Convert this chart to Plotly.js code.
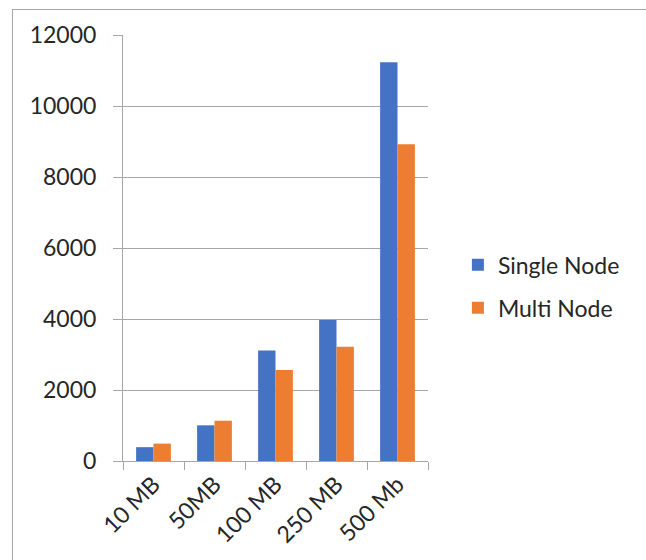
<!DOCTYPE html>
<html>
<head>
<meta charset="utf-8">
<script src="https://cdn.plot.ly/plotly-3.0.1.min.js"></script>
<style>
  html, body { margin: 0; padding: 0; background: #fff; }
  #wrap { position: relative; width: 646px; height: 560px; overflow: hidden; }
  #frame { position: absolute; left: 12px; top: 9px; width: 700px; height: 600px; border: 1px solid #a6a6a6; box-sizing: border-box; }
  #chart { position: absolute; left: 0; top: 0; width: 646px; height: 560px; }
</style>
</head>
<body>
<div id="wrap">
  <div id="frame"></div>
  <div id="chart"></div>
</div>
<script>
const categories = ["10 MB", "50MB", "100 MB", "250 MB", "500 Mb"];
const singleNode = [390, 1005, 3110, 3975, 11230];
const multiNode = [490, 1135, 2565, 3215, 8920];
const yTicks = [0, 2000, 4000, 6000, 8000, 10000, 12000];

const font = { family: "Lato, 'Open Sans', sans-serif", size: 23, color: "#262626" };

const traces = [
  { type: "bar", name: "Single Node", legendgroup: "a", x: categories, y: singleNode, marker: { color: "#4472C4" } },
  { type: "bar", name: "Multi Node", legendgroup: "b", x: categories, y: multiNode, marker: { color: "#ED7D31" } }
];

const layout = {
  width: 646, height: 560,
  paper_bgcolor: "rgba(0,0,0,0)", plot_bgcolor: "rgba(0,0,0,0)",
  margin: { l: 123, r: 218, t: 35, b: 99, pad: 0 },
  font: font,
  barmode: "group", bargap: 0.43, bargroupgap: 0,
  showlegend: true,
  legend: { x: 1.098, y: 0.41, xanchor: "left", yanchor: "middle", traceorder: "grouped", tracegroupgap: 10,
            font: { family: font.family, size: 23, color: "#262626" }, itemwidth: 30 },
  xaxis: {
    type: "category", tickangle: -45, showline: true, linecolor: "#a6a6a6", linewidth: 1,
    ticks: "outside", tickson: "boundaries", ticklen: 8, tickcolor: "#a6a6a6",
    showgrid: false, tickfont: font, automargin: false
  },
  yaxis: {
    range: [0, 12000], tickvals: yTicks, tickformat: "d", showline: true, linecolor: "#a6a6a6", linewidth: 1,
    ticks: "outside", ticklen: 9, tickcolor: "#a6a6a6", ticklabelstandoff: 12,
    showgrid: true, gridcolor: "#a6a6a6", gridwidth: 1, zeroline: false, tickfont: font, automargin: false
  }
};

Plotly.newPlot("chart", traces, layout, { displayModeBar: false, staticPlot: true });
</script>
</body>
</html>
